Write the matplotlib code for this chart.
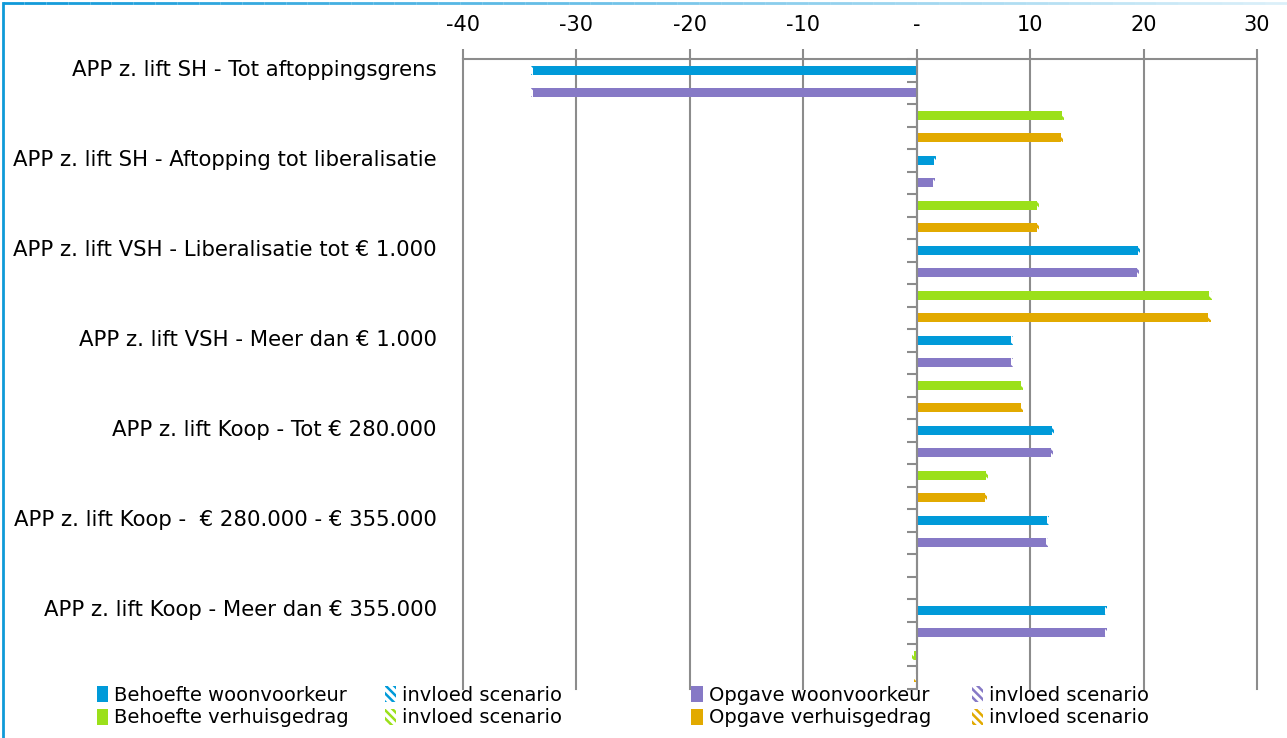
import numpy as np
import matplotlib
matplotlib.use("Agg")
import matplotlib.pyplot as plt
from matplotlib.patches import Patch
from matplotlib.collections import LineCollection
from matplotlib.transforms import blended_transform_factory

plt.rcParams['font.family'] = ['DejaVu Sans']
plt.rcParams['hatch.linewidth'] = 1.8

categories = [
    "APP z. lift SH - Tot aftoppingsgrens",
    "APP z. lift SH - Aftopping tot liberalisatie",
    "APP z. lift VSH - Liberalisatie tot € 1.000",
    "APP z. lift VSH - Meer dan € 1.000",
    "APP z. lift Koop - Tot € 280.000",
    "APP z. lift Koop -  € 280.000 - € 355.000",
    "APP z. lift Koop - Meer dan € 355.000",
]
# base values and "invloed scenario" part, per series
beh_woon    = [-33.8, 1.5, 19.5, 8.3, 11.9, 11.5, 16.6]
beh_woon_sc = [-0.2, 0.2, 0.2, 0.2, 0.2, 0.2, 0.2]
opg_woon    = [-33.8, 1.4, 19.4, 8.3, 11.8, 11.4, 16.6]
opg_woon_sc = [-0.2, 0.2, 0.2, 0.2, 0.2, 0.2, 0.2]
beh_verh    = [12.8, 10.6, 25.8, 9.2, 6.1, 0.0, -0.2]
beh_verh_sc = [0.2, 0.2, 0.2, 0.2, 0.2, -0.1, -0.2]
opg_verh    = [12.7, 10.6, 25.7, 9.2, 6.0, 0.0, -0.1]
opg_verh_sc = [0.2, 0.2, 0.2, 0.2, 0.2, -0.05, -0.15]

series = [
    ("Behoefte woonvoorkeur", beh_woon, beh_woon_sc, "#009ad9"),
    ("Opgave woonvoorkeur", opg_woon, opg_woon_sc, "#8679c6"),
    ("Behoefte verhuisgedrag", beh_verh, beh_verh_sc, "#9be01a"),
    ("Opgave verhuisgedrag", opg_verh, opg_verh_sc, "#e2aa00"),
]
xticks = [-40, -30, -20, -10, 0, 10, 20, 30]
xticklabels = ["-40", "-30", "-20", "-10", "-", "10", "20", "30"]

fig = plt.figure(figsize=(12.87, 7.38), dpi=100)
ax = fig.add_axes([0.3597, 0.0664, 0.617, 0.8536])

n_ser = len(series)
n_cat = len(categories)
for si, (name, base, sc, col) in enumerate(series):
    y = np.arange(n_cat) * n_ser + si
    base = np.array(base)
    sc = np.array(sc)
    ax.barh(y, base, height=0.4, color=col, zorder=3)
    ax.barh(y, sc, left=base, height=0.4, color="white", edgecolor=col,
            hatch="\\\\\\", lw=0, zorder=3)

ax.set_xlim(-40, 30)
ax.set_ylim(n_cat * n_ser - 0.5, -0.5)
ax.xaxis.tick_top()
ax.set_xticks(xticks)
ax.set_xticklabels(xticklabels, fontsize=15)
ax.tick_params(axis="x", direction="out", length=7, width=1.5, color="#8c8c8c", pad=10)
ax.grid(axis="x", color="#8c8c8c", lw=1.5, zorder=1)
for gl in ax.get_xgridlines():
    gl.set_clip_on(False)

# y axis sits on the zero line with ticks between bars
ax.spines["left"].set_position(("data", 0))
ax.spines["left"].set_color("#8c8c8c")
ax.spines["left"].set_linewidth(1.5)
ax.spines["left"].set_zorder(4)
ax.set_yticks(np.arange(n_cat * n_ser + 1) - 0.5)
ax.set_yticklabels([])
ax.tick_params(axis="y", direction="out", length=7, width=1.5, color="#8c8c8c")
ax.spines["top"].set_color("#8c8c8c")
ax.spines["top"].set_linewidth(1.5)
ax.spines["right"].set_visible(False)
ax.spines["bottom"].set_visible(False)

trans = blended_transform_factory(ax.transAxes, ax.transData)
for ci, cat in enumerate(categories):
    ax.text(-0.033, ci * n_ser, cat, transform=trans, ha="right", va="center",
            fontsize=15.3)

# legend: four columns, two rows each
cols = [
    [(series[0][0], series[0][3], False), (series[2][0], series[2][3], False)],
    [("invloed scenario", series[0][3], True), ("invloed scenario", series[2][3], True)],
    [(series[1][0], series[1][3], False), (series[3][0], series[3][3], False)],
    [("invloed scenario", series[1][3], True), ("invloed scenario", series[3][3], True)],
]
col_x = [0.075, 0.299, 0.537, 0.755]
for cx, entries in zip(col_x, cols):
    handles = []
    for lab, col, hatched in entries:
        if hatched:
            handles.append(Patch(facecolor="white", edgecolor=col, hatch="\\\\\\\\", lw=0, label=lab))
        else:
            handles.append(Patch(facecolor=col, lw=0, label=lab))
    fig.legend(handles=handles, loc="upper left", bbox_to_anchor=(cx, 0.071),
               frameon=False, fontsize=14, handlelength=0.6, handleheight=0.85,
               handletextpad=0.3, labelspacing=0.2, borderaxespad=0, borderpad=0)

# blue frame: solid left edge, top edge fading to the right
fig.add_artist(plt.Line2D([0.002, 0.002], [0, 0.996], transform=fig.transFigure,
                          color="#0f9ad8", lw=2))
xs = np.linspace(0.002, 1.0, 60)
segs = [[(xs[i], 0.996), (xs[i + 1], 0.996)] for i in range(len(xs) - 1)]
fade = [(0.06, 0.6, 0.85, 1 - 0.85 * i / (len(segs) - 1)) for i in range(len(segs))]
fig.add_artist(LineCollection(segs, colors=fade, lw=2, transform=fig.transFigure))

fig.savefig("out.png", dpi=100)
